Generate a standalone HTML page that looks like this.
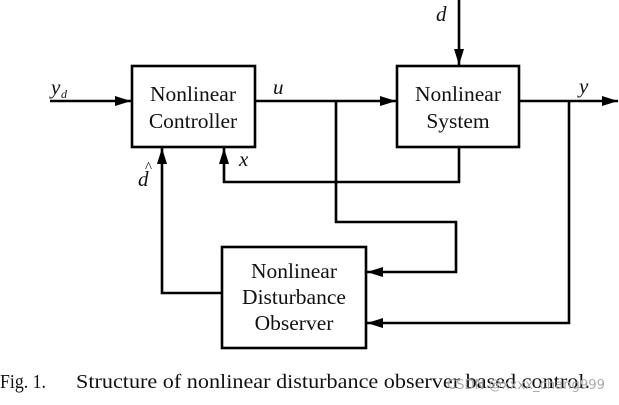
<!DOCTYPE html>
<html><head><meta charset="utf-8"><style>
body{margin:0;background:#fff;width:619px;height:405px;overflow:hidden}
svg{display:block}
text{font-family:"Liberation Serif",serif;fill:#111}
</style></head><body>
<svg width="619" height="405" viewBox="0 0 619 405">
<defs><marker id="b" markerWidth="16" markerHeight="10" refX="16" refY="5" orient="auto" markerUnits="userSpaceOnUse"><path d="M0,0 L16,5 L0,10z" fill="#000"/></marker></defs>
<g stroke="#000" stroke-width="2.6" fill="none">
<rect x="132" y="66" width="123" height="81"/>
<rect x="397" y="66" width="122" height="81"/>
<rect x="222" y="247" width="144" height="101"/>
<path d="M50 101 H131" marker-end="url(#b)"/>
<path d="M255 101 H396" marker-end="url(#b)"/>
<path d="M519 101 H618" marker-end="url(#b)"/>
<path d="M459 0 V65" marker-end="url(#b)"/>
<path d="M459 147 V182 H224 V148" marker-end="url(#b)"/>
<path d="M222 293 H162 V148" marker-end="url(#b)"/>
<path d="M336 101 V222 H456 V272 H367" marker-end="url(#b)"/>
<path d="M569 101 V323 H367" marker-end="url(#b)"/>
</g>
<g font-size="21.5" text-anchor="middle">
<text x="193" y="101">Nonlinear</text><text x="193" y="128">Controller</text>
<text x="458" y="101">Nonlinear</text><text x="458" y="128">System</text>
<text x="294" y="278">Nonlinear</text><text x="294" y="304">Disturbance</text><text x="294" y="330">Observer</text>
</g>
<g font-size="21" font-style="italic">
<text x="51" y="94">y</text><text x="61" y="98" font-size="12">d</text>
<text x="273" y="94">u</text>
<text x="579" y="93">y</text>
<text x="436" y="21">d</text>
<text x="239" y="166">x</text>
<text x="138" y="186">d</text><text x="145" y="172" font-size="15" font-style="normal">^</text>
</g>
<text x="0" y="388" font-size="20" textLength="46" lengthAdjust="spacingAndGlyphs">Fig. 1.</text>
<text x="76" y="388" font-size="20" textLength="514" lengthAdjust="spacingAndGlyphs">Structure of nonlinear disturbance observer based control.</text>
<text x="447" y="389" font-size="13" style="font-family:'DejaVu Sans',sans-serif;fill:#aaa" textLength="158" lengthAdjust="spacingAndGlyphs">CSDN @xxxx_chang999</text>
</svg>
</body></html>
